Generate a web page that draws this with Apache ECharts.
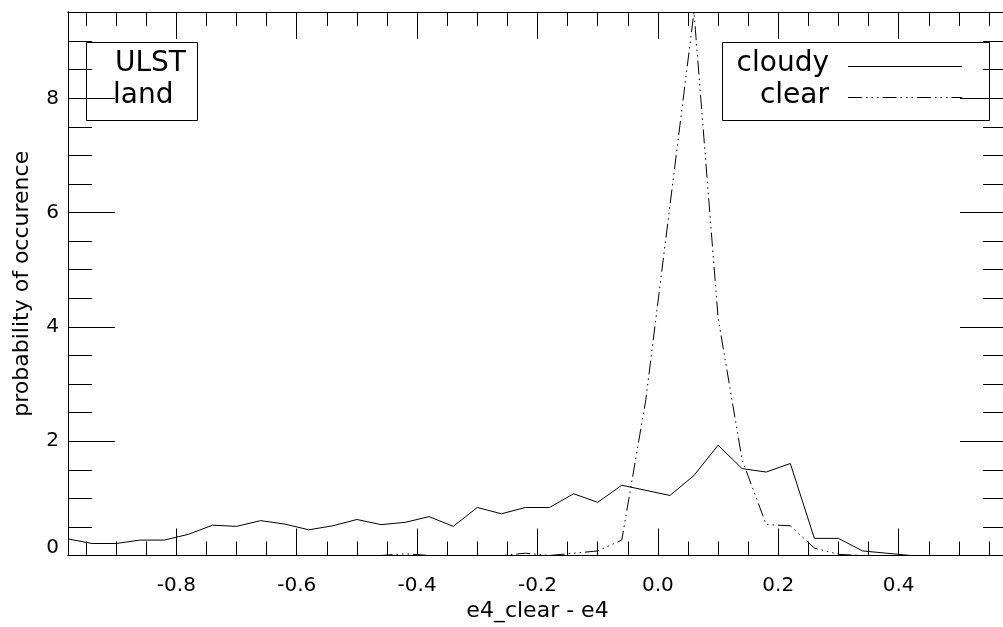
<!DOCTYPE html>
<html>
<head>
<meta charset="utf-8">
<script src="https://cdn.jsdelivr.net/npm/echarts@6/dist/echarts.min.js"></script>
<style>
  html, body { margin: 0; padding: 0; background: #fff; }
  #chart { width: 1003px; height: 627px; }
</style>
</head>
<body>
<div id="chart"></div>
<script>
// histogram bin centres (e4_clear - e4)
const binCenters = [-0.98, -0.94, -0.90, -0.86, -0.82, -0.78, -0.74, -0.70, -0.66, -0.62,
  -0.58, -0.54, -0.50, -0.46, -0.42, -0.38, -0.34, -0.30, -0.26, -0.22,
  -0.18, -0.14, -0.10, -0.06, -0.02, 0.02, 0.06, 0.10, 0.14, 0.18,
  0.22, 0.26, 0.30, 0.34, 0.38, 0.42, 0.46, 0.50, 0.54, 0.58]

const cloudy = [0.29, 0.21, 0.21, 0.27, 0.27, 0.37, 0.53, 0.51, 0.61, 0.55,
  0.45, 0.52, 0.63, 0.54, 0.58, 0.68, 0.51, 0.84, 0.73, 0.84,
  0.84, 1.08, 0.93, 1.23, 1.14, 1.05, 1.40, 1.93, 1.52, 1.46,
  1.61, 0.30, 0.30, 0.08, 0.04, 0, 0, 0, 0, 0]

const clear = [0, 0, 0, 0, 0, 0, 0, 0, 0, 0,
  0, 0, 0, 0, 0.03, 0, 0, 0, 0, 0.04,
  0, 0.04, 0.08, 0.27, 2.73, 6.12, 9.51, 4.16, 1.67, 0.54,
  0.52, 0.13, 0.02, 0, 0, 0, 0, 0, 0, 0]

const xMajor = [-0.8, -0.6, -0.4, -0.2, 0.0, 0.2, 0.4]
const xMinor = [-0.95, -0.9, -0.85, -0.75, -0.7, -0.65, -0.55, -0.5, -0.45,
  -0.35, -0.3, -0.25, -0.15, -0.1, -0.05, 0.05, 0.1, 0.15, 0.25, 0.3, 0.35,
  0.45, 0.5, 0.55]
const yMajor = [0, 2, 4, 6, 8]
const yMinor = [0.5, 1, 1.5, 2.5, 3, 3.5, 4.5, 5, 5.5, 6.5, 7, 7.5, 8.5, 9]

const xMin = -0.98, xMax = 0.58, yMin = 0, yMax = 9.51

const ink = '#000'
const font = 'DejaVu Sans'
const clearDash = [14, 4, 1.5, 4, 1.5, 4, 1.5, 4]

const chart = echarts.init(document.getElementById('chart'), null, { renderer: 'canvas' })

// axes sit above the curves so the zero stretches of the lines vanish into the frame
function xAxisDef(position, ticks, len, withLabels) {
  return {
    type: 'value', position, min: xMin, max: xMax, z: 5,
    axisLine: { show: true, onZero: false, lineStyle: { color: ink, width: 1 } },
    axisTick: { show: true, inside: true, length: len, customValues: ticks, lineStyle: { color: ink, width: 1 } },
    axisLabel: withLabels ? {
      show: true, customValues: ticks, margin: 20, color: ink,
      fontFamily: font, fontSize: 20, formatter: v => v.toFixed(1)
    } : { show: false },
    splitLine: { show: false }
  }
}

function yAxisDef(position, ticks, len, withLabels) {
  return {
    type: 'value', position, min: yMin, max: yMax, z: 5,
    axisLine: { show: true, onZero: false, lineStyle: { color: ink, width: 1 } },
    axisTick: { show: true, inside: true, length: len, customValues: ticks, lineStyle: { color: ink, width: 1 } },
    axisLabel: withLabels ? {
      show: true, customValues: ticks, margin: 9, color: ink,
      fontFamily: font, fontSize: 20,
      formatter: v => v === 0 ? '{lo|0}' : String(v),
      rich: { lo: { fontFamily: font, fontSize: 20, color: ink, padding: [0, 0, 16, 0] } }
    } : { show: false },
    splitLine: { show: false }
  }
}

const xBottom = xAxisDef('bottom', xMajor, 27, true)
xBottom.name = 'e4_clear - e4'
xBottom.nameLocation = 'middle'
xBottom.nameGap = 44
xBottom.nameTextStyle = { color: ink, fontFamily: font, fontSize: 22 }

const yLeft = yAxisDef('left', yMajor, 47, true)
yLeft.name = 'probability of occurence'
yLeft.nameLocation = 'middle'
yLeft.nameRotate = 90
yLeft.nameGap = 35
yLeft.nameTextStyle = { color: ink, fontFamily: font, fontSize: 22 }

chart.setOption({
  animation: false,
  backgroundColor: '#fff',
  grid: { left: 68, top: 12, width: 939, height: 543.5, containLabel: false, outerBoundsMode: 'none' },
  xAxis: [
    xBottom,
    xAxisDef('bottom', xMinor, 14, false),
    xAxisDef('top', xMajor, 27, false),
    xAxisDef('top', xMinor, 14, false)
  ],
  yAxis: [
    yLeft,
    yAxisDef('left', yMinor, 24, false),
    yAxisDef('right', yMajor, 47, false),
    yAxisDef('right', yMinor, 24, false)
  ],
  series: [
    {
      name: 'cloudy', type: 'line', xAxisIndex: 0, yAxisIndex: 0,
      data: binCenters.map((x, i) => [x, cloudy[i]]),
      showSymbol: false, clip: true,
      lineStyle: { color: ink, width: 1 }
    },
    {
      name: 'clear', type: 'line', xAxisIndex: 0, yAxisIndex: 0,
      data: binCenters.map((x, i) => [x, clear[i]]),
      showSymbol: false, clip: true,
      lineStyle: { color: ink, width: 1, type: clearDash }
    }
  ],
  graphic: [
    // left annotation box
    { type: 'rect', shape: { x: 86.5, y: 42.5, width: 111, height: 78 },
      style: { fill: 'none', stroke: ink, lineWidth: 1 } },
    { type: 'text', x: 115, y: 64,
      style: { text: 'ULST', font: '28px "DejaVu Sans"', fill: ink, verticalAlign: 'middle' } },
    { type: 'text', x: 113, y: 96,
      style: { text: 'land', font: '28px "DejaVu Sans"', fill: ink, verticalAlign: 'middle' } },
    // legend box
    { type: 'rect', shape: { x: 722.5, y: 42.5, width: 267, height: 78 },
      style: { fill: 'none', stroke: ink, lineWidth: 1 } },
    { type: 'text', x: 829, y: 64,
      style: { text: 'cloudy', font: '28px "DejaVu Sans"', fill: ink, align: 'right', verticalAlign: 'middle' } },
    { type: 'text', x: 829, y: 96,
      style: { text: 'clear', font: '28px "DejaVu Sans"', fill: ink, align: 'right', verticalAlign: 'middle' } },
    { type: 'line', shape: { x1: 848, y1: 66.5, x2: 962, y2: 66.5 },
      style: { stroke: ink, lineWidth: 1 } },
    { type: 'line', shape: { x1: 848, y1: 97.5, x2: 962, y2: 97.5 },
      style: { stroke: ink, lineWidth: 1, lineDash: clearDash } }
  ]
})
</script>
</body>
</html>
